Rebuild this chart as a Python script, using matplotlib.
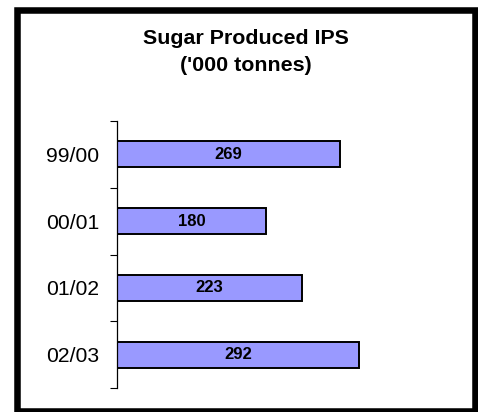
import matplotlib

matplotlib.use("Agg")
import matplotlib.pyplot as plt
from matplotlib.patches import Rectangle

plt.rcParams["font.family"] = ["Liberation Sans", "DejaVu Sans"]

# 数据
seasons = ["99/00", "00/01", "01/02", "02/03"]
sugar_kt = [269, 180, 223, 292]

W, H = 478, 412
fig = plt.figure(figsize=(W / 100, H / 100), dpi=100)

# 外框（黑色粗边）
fig.patches.append(
    Rectangle((16.5 / W, 1.0 / H), 458 / W, 401 / H, transform=fig.transFigure,
              fill=False, edgecolor="black", linewidth=4.7, zorder=10)
)

ax = fig.add_axes([116.7 / W, 1 - 388 / H, 332 / W, 267 / H])

pos = list(range(len(seasons)))
bars = ax.barh(pos, sugar_kt, height=0.39, color="#9999ff",
               edgecolor="black", linewidth=1.4)
for b, v in zip(bars, sugar_kt):
    ax.text(b.get_width() / 2, b.get_y() + b.get_height() / 2, str(v),
            ha="center", va="center", fontsize=12, fontweight="bold")

ax.set_xlim(0, 400)
ax.set_ylim(len(seasons) - 0.5, -0.5)
ax.set_yticks(pos)
ax.set_yticklabels(seasons, fontsize=15.2)
ax.set_yticks([i - 0.5 for i in range(len(seasons) + 1)], minor=True)
ax.tick_params(axis="y", which="major", length=0, pad=12.5)
ax.tick_params(axis="y", which="minor", length=4.8, width=0.8, direction="out")
ax.set_xticks([])

for s in ["top", "right", "bottom"]:
    ax.spines[s].set_visible(False)
ax.spines["left"].set_linewidth(0.9)

fig.text(246 / W, 1 - 38.5 / H, "Sugar Produced IPS", ha="center", va="center",
         fontsize=15.4, fontweight="bold")
fig.text(246 / W, 1 - 65.5 / H, "('000 tonnes)", ha="center", va="center",
         fontsize=15.4, fontweight="bold")

fig.savefig("out.png", dpi=100)
